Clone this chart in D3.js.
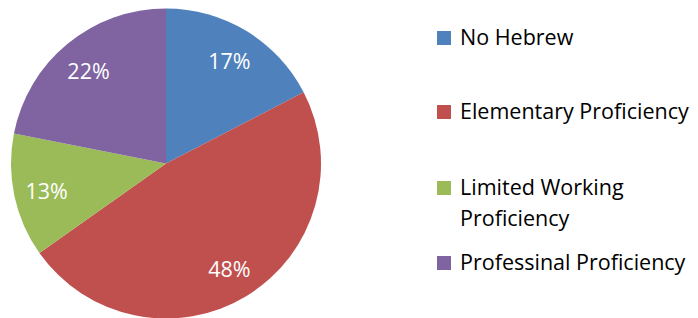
<!DOCTYPE html>
<html><head><meta charset="utf-8">
<script src="https://cdn.jsdelivr.net/npm/d3@7"></script>
<style>body{margin:0;background:#fff}svg{display:block}</style>
</head><body>
<script>
const categories = ["No Hebrew", "Elementary Proficiency", "Limited Working Proficiency", "Professinal Proficiency"];
const legendLines = [["No Hebrew"], ["Elementary Proficiency"], ["Limited Working", "Proficiency"], ["Professinal Proficiency"]];
const values = [17.4, 47.8, 12.9, 21.9];
const colors = ["#4F81BD", "#C0504D", "#9BBB59", "#8064A2"];

const W = 698, H = 318;
const font = "'Open Sans', 'Noto Sans', sans-serif";
const svg = d3.select("body").append("svg").attr("width", W).attr("height", H);

const cx = 166, cy = 163.5, R = 155, labelR = 122;
const pie = d3.pie().sort(null).value(d => d)(values);
const arc = d3.arc().innerRadius(0).outerRadius(R);
const labelArc = d3.arc().innerRadius(labelR).outerRadius(labelR);
const color = d3.scaleOrdinal().domain(categories).range(colors);
const total = d3.sum(values);
const pct = d3.format(".0%");

const g = svg.append("g").attr("transform", `translate(${cx},${cy})`);
g.selectAll("path").data(pie).join("path")
  .attr("d", arc).attr("fill", (d, i) => color(categories[i]));
g.selectAll("text").data(pie).join("text")
  .attr("transform", d => { const c = labelArc.centroid(d); return `translate(${c[0]},${c[1] + 2})`; })
  .attr("text-anchor", "middle").attr("dy", "0.35em")
  .attr("fill", "#fff").attr("font-family", font).attr("font-size", 21.5)
  .text(d => pct(d.data / total));

const legY = [31, 105, 181, 256];
const leg = svg.append("g");
legendLines.forEach((lines, i) => {
  leg.append("rect").attr("x", 437).attr("y", legY[i]).attr("width", 14).attr("height", 14)
    .attr("fill", color(categories[i]));
  lines.forEach((t, j) => {
    leg.append("text").attr("x", 460).attr("y", legY[i] + 14 + j * 31)
      .attr("font-family", font).attr("font-size", 21.5).attr("fill", "#000")
      .text(t);
  });
});
</script>
</body></html>
